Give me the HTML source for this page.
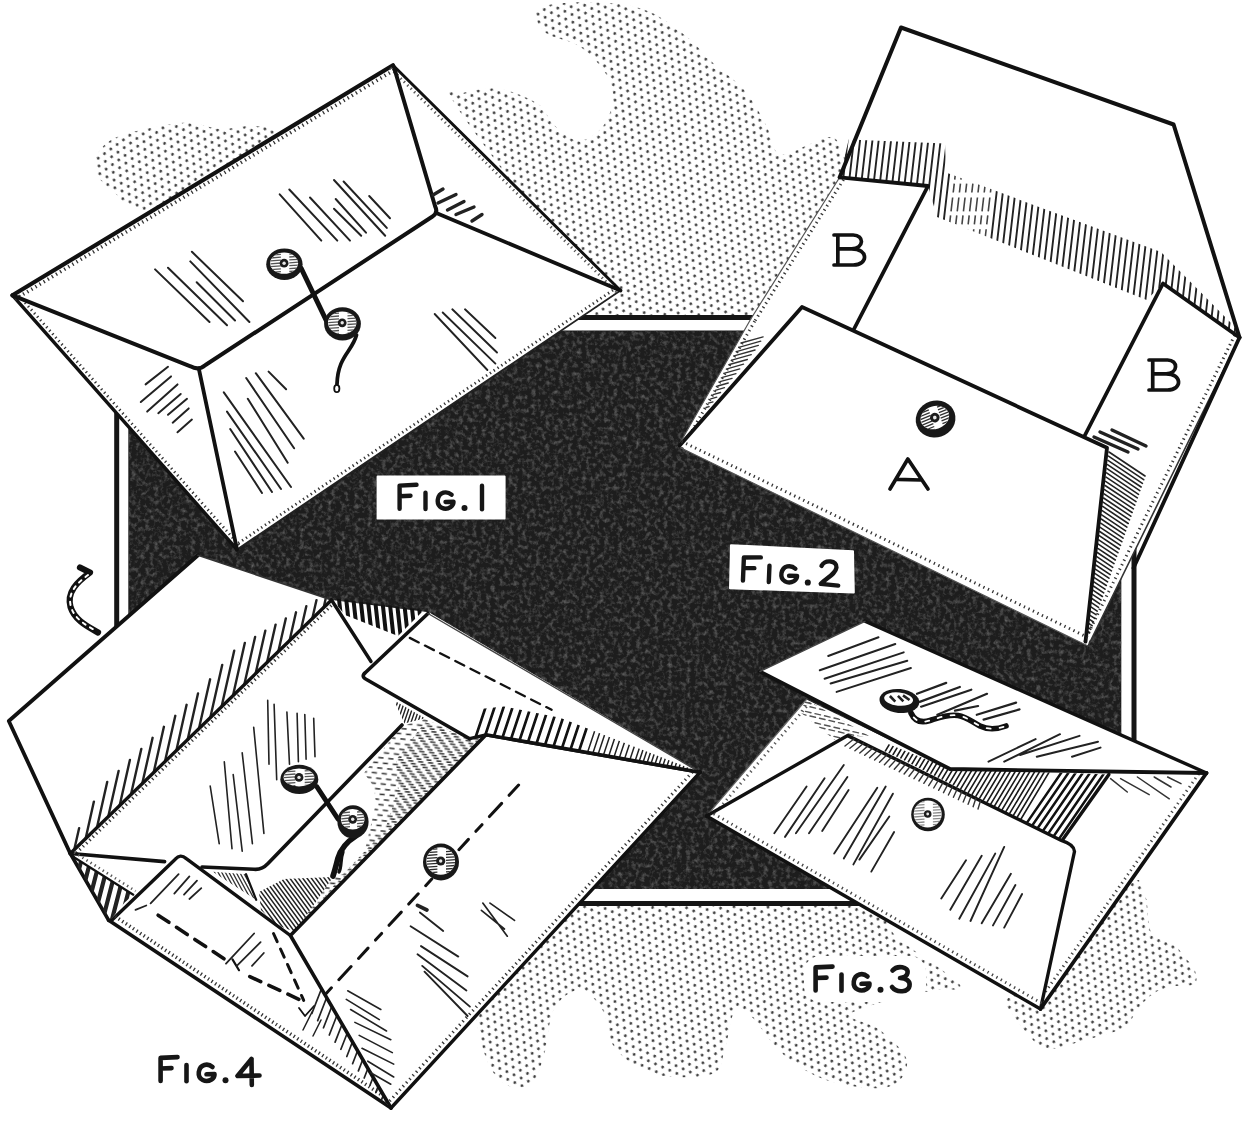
<!DOCTYPE html>
<html><head><meta charset="utf-8"><title>Envelope figures</title>
<style>html,body{margin:0;padding:0;background:#fff;}body{width:1252px;height:1121px;overflow:hidden;font-family:"Liberation Sans",sans-serif;}svg{display:block}</style>
</head><body>
<svg width="1252" height="1121" viewBox="0 0 1252 1121">
<defs>
<pattern id="stip" width="7.8" height="13.5" patternUnits="userSpaceOnUse" patternTransform="rotate(24)">
<circle cx="1.95" cy="3.37" r="1.4" fill="#3c3c3c"/><circle cx="5.85" cy="10.12" r="1.4" fill="#3c3c3c"/>
</pattern>
<filter id="noise" x="0" y="0" width="100%" height="100%" color-interpolation-filters="sRGB">
<feTurbulence type="fractalNoise" baseFrequency="0.22" numOctaves="3" seed="3" result="n"/>
<feColorMatrix in="n" type="matrix" values="0 0 0 0 0.42  0 0 0 0 0.42  0 0 0 0 0.42  1.8 0 0 0 -0.8" result="m"/>
<feComposite in="m" in2="SourceGraphic" operator="in" result="c"/>
<feMerge><feMergeNode in="SourceGraphic"/><feMergeNode in="c"/></feMerge>
</filter>
</defs>
<rect width="1252" height="1121" fill="#fff"/>
<path d="M455.0,104.0C438.8,77.8 455.5,95.5 463.0,93.0C470.5,90.5 487.5,87.2 500.0,89.0C512.5,90.8 529.0,98.0 538.0,104.0C547.0,110.0 547.2,118.8 554.0,125.0C560.8,131.2 570.7,141.0 579.0,141.0C587.3,141.0 598.3,132.5 604.0,125.0C609.7,117.5 613.0,105.0 613.0,96.0C613.0,87.0 609.7,79.3 604.0,71.0C598.3,62.7 588.7,52.3 579.0,46.0C569.3,39.7 553.2,38.5 546.0,33.0C538.8,27.5 534.7,17.8 536.0,13.0C537.3,8.2 542.0,5.7 554.0,4.0C566.0,2.3 592.0,1.7 608.0,3.0C624.0,4.3 636.8,6.3 650.0,12.0C663.2,17.7 676.7,28.7 687.0,37.0C697.3,45.3 702.3,53.0 712.0,62.0C721.7,71.0 736.0,80.5 745.0,91.0C754.0,101.5 760.3,114.5 766.0,125.0C771.7,135.5 772.0,150.7 779.0,154.0C786.0,157.3 800.2,147.8 808.0,145.0C815.8,142.2 820.7,136.8 826.0,137.0C831.3,137.2 836.0,135.5 840.0,146.0C844.0,156.5 856.7,169.3 850.0,200.0C843.3,230.7 841.7,308.3 800.0,330.0C758.3,351.7 640.0,343.3 600.0,330.0C560.0,316.7 584.2,287.7 560.0,250.0C535.8,212.3 471.2,130.2 455.0,104.0Z" fill="url(#stip)" />
<path d="M97.0,175.0C93.7,168.3 93.7,161.3 97.0,155.0C100.3,148.7 105.5,142.0 117.0,137.0C128.5,132.0 153.5,127.3 166.0,125.0C178.5,122.7 182.8,122.3 192.0,123.0C201.2,123.7 210.5,128.5 221.0,129.0C231.5,129.5 246.0,125.0 255.0,126.0C264.0,127.0 275.8,124.3 275.0,135.0C274.2,145.7 270.0,177.5 250.0,190.0C230.0,202.5 175.7,207.7 155.0,210.0C134.3,212.3 132.3,206.5 126.0,204.0C119.7,201.5 121.8,199.8 117.0,195.0C112.2,190.2 100.3,181.7 97.0,175.0Z" fill="url(#stip)" />
<path d="M590.0,890.0C640.0,881.7 788.3,881.7 840.0,890.0C891.7,898.3 880.0,924.2 900.0,940.0C920.0,955.8 954.2,976.7 960.0,985.0C965.8,993.3 946.7,987.5 935.0,990.0C923.3,992.5 904.2,995.8 890.0,1000.0C875.8,1004.2 851.7,1010.0 850.0,1015.0C848.3,1020.0 870.5,1022.3 880.0,1030.0C889.5,1037.7 905.7,1051.5 907.0,1061.0C908.3,1070.5 901.0,1083.7 888.0,1087.0C875.0,1090.3 846.3,1086.3 829.0,1081.0C811.7,1075.7 797.0,1065.8 784.0,1055.0C771.0,1044.2 759.2,1023.5 751.0,1016.0C742.8,1008.5 739.3,1004.7 735.0,1010.0C730.7,1015.3 728.8,1037.3 725.0,1048.0C721.2,1058.7 723.8,1069.7 712.0,1074.0C700.2,1078.3 670.2,1078.3 654.0,1074.0C637.8,1069.7 623.7,1058.8 615.0,1048.0C606.3,1037.2 608.0,1018.7 602.0,1009.0C596.0,999.3 587.0,990.0 579.0,990.0C571.0,990.0 559.8,998.2 554.0,1009.0C548.2,1019.8 547.8,1042.5 544.0,1055.0C540.2,1067.5 537.5,1079.2 531.0,1084.0C524.5,1088.8 512.7,1088.8 505.0,1084.0C497.3,1079.2 489.2,1069.0 485.0,1055.0C480.8,1041.0 470.8,1019.2 480.0,1000.0C489.2,980.8 521.7,958.3 540.0,940.0C558.3,921.7 540.0,898.3 590.0,890.0Z" fill="url(#stip)" />
<path d="M1125.0,878.0C1133.2,869.7 1135.5,876.4 1139.0,880.0C1142.5,883.6 1144.7,892.6 1146.3,899.5C1147.9,906.4 1147.5,915.2 1148.7,921.2C1149.9,927.2 1149.5,932.1 1153.5,935.7C1157.5,939.3 1167.6,939.3 1172.8,942.9C1178.0,946.5 1181.2,952.9 1184.8,957.3C1188.4,961.7 1192.9,965.0 1194.5,969.4C1196.1,973.8 1198.1,981.1 1194.5,983.9C1190.9,986.7 1179.6,984.7 1172.8,986.3C1166.0,987.9 1159.5,989.5 1153.5,993.5C1147.5,997.5 1141.4,1004.8 1136.6,1010.4C1131.8,1016.0 1132.6,1022.4 1124.6,1027.2C1116.6,1032.0 1100.5,1035.7 1088.4,1039.3C1076.4,1042.9 1060.3,1047.7 1052.3,1048.9C1044.3,1050.1 1044.6,1049.3 1040.2,1046.5C1035.8,1043.7 1030.6,1037.6 1025.8,1032.0C1021.0,1026.4 1014.6,1018.1 1011.3,1012.8C1008.0,1007.5 1002.9,1004.6 1006.0,1000.0C1009.1,995.4 1016.0,996.7 1030.0,985.0C1044.0,973.3 1074.2,947.8 1090.0,930.0C1105.8,912.2 1116.8,886.3 1125.0,878.0Z" fill="url(#stip)" />
<rect x="116.7" y="317.5" width="1017.3" height="586" fill="#fff" stroke="#151515" stroke-width="5"/>
<rect x="128.3" y="330.5" width="993" height="558.5" fill="#1d1d1d" filter="url(#noise)"/>
<polygon points="1105,874 1145,874 1145,912 1085,912" fill="#fff"/>
<polygon points="1105,880 1139,880 1146.3,899.5 1147.5,912 1085,912" fill="url(#stip)"/>
<polygon points="12.5,295.3 393.0,65.3 620.5,290.5 237.0,549.5" fill="#fff" stroke="none" stroke-width="0" stroke-linejoin="round" />
<line x1="12.5" y1="295.3" x2="237.0" y2="549.5" stroke="#111" stroke-width="3.4" stroke-linecap="round" />
<line x1="237.0" y1="549.5" x2="620.5" y2="290.5" stroke="#222" stroke-width="1.8" stroke-linecap="round" />
<line x1="15.9" y1="292.3" x2="240.4" y2="546.5" stroke="#333" stroke-width="2.8" stroke-dasharray="1.3 3.3"/>
<line x1="234.5" y1="545.8" x2="618.0" y2="286.8" stroke="#333" stroke-width="2.8" stroke-dasharray="1.3 3.3"/>
<line x1="12.5" y1="295.3" x2="393.0" y2="65.3" stroke="#111" stroke-width="4.2" stroke-linecap="round" />
<line x1="393.0" y1="65.3" x2="620.5" y2="290.5" stroke="#111" stroke-width="2.9" stroke-linecap="round" />
<line x1="14.9" y1="299.3" x2="395.4" y2="69.3" stroke="#333" stroke-width="3.6" stroke-dasharray="1.3 3.5"/>
<line x1="390.3" y1="68.1" x2="617.8" y2="293.3" stroke="#555" stroke-width="2.8" stroke-dasharray="1.3 3.5"/>
<path d="M12.5,295.3 L190.5,366.3 Q198.5,371.0 205.5,365.0 L432.5,216.5 Q438.5,213 435.0,206.0 L394,67.3" fill="none" stroke="#111" stroke-width="4" stroke-linecap="round" stroke-linejoin="round" />
<line x1="199.0" y1="369.5" x2="237.0" y2="549.5" stroke="#111" stroke-width="3.8" stroke-linecap="round" />
<line x1="437.5" y1="213.5" x2="620.5" y2="290.5" stroke="#111" stroke-width="3.8" stroke-linecap="round" />
<path d="M279.7,194.3L321.3,240.6M289.3,189.5L337.3,240.6M310.0,197.5L350.0,240.6M334.0,208.7L361.2,235.8M335.7,199.0L366.0,232.7M334.0,180.0L385.2,235.8M343.6,181.5L386.8,227.9M369.2,196.0L390.0,218.3" fill="none" stroke="#222" stroke-width="2" stroke-linecap="round"/>
<path d="M155.1,269.4L209.5,322.0M168.0,267.8L227.0,325.3M191.9,251.8L243.0,301.3M190.3,261.4L249.4,322.0M196.7,282.2L235.0,320.5" fill="none" stroke="#222" stroke-width="2" stroke-linecap="round"/>
<path d="M434.7,314.0L487.4,370.0M442.7,312.5L495.4,363.6M452.3,309.3L497.0,352.5M465.0,309.3L495.4,338.0" fill="none" stroke="#222" stroke-width="1.9" stroke-linecap="round"/>
<path d="M223.8,392.4L291.0,487.0M227.0,411.6L281.0,489.0M230.2,429.0L272.0,492.0M235.0,451.5L262.0,493.0M246.2,378.0L294.1,448.3M247.8,398.8L287.7,462.7M255.8,373.2L303.7,438.7M268.6,371.6L286.1,389.2" fill="none" stroke="#222" stroke-width="2" stroke-linecap="round"/>
<path d="M145.6,384.4L168.0,366.8M140.8,402.0L171.0,376.4M147.2,411.6L177.5,384.4M158.3,413.2L180.7,394.0M168.0,414.8L187.0,398.8M172.7,422.7L188.7,408.4M177.5,432.3L191.9,419.6" fill="none" stroke="#222" stroke-width="2" stroke-linecap="round"/>
<path d="M433.0,195.0L443.0,189.0M438.0,203.0L456.0,194.5M447.5,210.0L464.0,201.5M456.0,214.5L474.0,207.0M472.0,221.0L482.0,214.5" fill="none" stroke="#222" stroke-width="3.4" stroke-linecap="round"/>
<line x1="301.0" y1="268.0" x2="327.0" y2="322.0" stroke="#111" stroke-width="5" stroke-linecap="round" />
<path d="M356.5,335 C352,352 338,356 337,384" fill="none" stroke="#111" stroke-width="3.8" stroke-linecap="round" stroke-linejoin="round" />
<ellipse cx="336.8" cy="388.5" rx="2.6" ry="3.6" fill="#fff" stroke="#111" stroke-width="1.8"/>
<g transform="translate(284.4,264.2) rotate(0)">
<ellipse rx="18.2" ry="15.8" fill="#181818"/>
<clipPath id="bt1"><ellipse cx="-0.3" cy="-1.0" rx="14.0" ry="10.6"/></clipPath>
<ellipse cx="-0.3" cy="-1.0" rx="14.0" ry="10.6" fill="#fff"/>
<path d="M-14.0,-9.1L-3.5,-9.9M4.9,-10.1L14.0,-10.7M-14.0,-6.2L-3.5,-7.0M4.9,-7.2L14.0,-7.8M-14.0,-3.3L-3.5,-4.1M4.9,-4.3L14.0,-4.9M-14.0,-0.4L-3.5,-1.2M4.9,-1.4L14.0,-2.0M-14.0,2.5L-3.5,1.7M4.9,1.5L14.0,0.9M-14.0,5.4L-3.5,4.6M4.9,4.4L14.0,3.8M-14.0,8.3L-3.5,7.5M4.9,7.3L14.0,6.7" stroke="#555" stroke-width="1.3" fill="none" clip-path="url(#bt1)"/>
<circle cx="-0.3" cy="-1.0" r="4.4" fill="#1d1d1d"/>
<circle cx="-0.3" cy="-1.0" r="1.7" fill="#e8e8e8"/>
</g>
<g transform="translate(342.5,323.8) rotate(0)">
<ellipse rx="18.4" ry="16.6" fill="#181818"/>
<clipPath id="bt2"><ellipse cx="-0.3" cy="-1.0" rx="14.2" ry="11.4"/></clipPath>
<ellipse cx="-0.3" cy="-1.0" rx="14.2" ry="11.4" fill="#fff"/>
<path d="M-14.2,-9.9L-3.5,-10.7M5.0,-10.9L14.2,-11.5M-14.2,-7.0L-3.5,-7.8M5.0,-8.0L14.2,-8.6M-14.2,-4.1L-3.5,-4.9M5.0,-5.1L14.2,-5.7M-14.2,-1.2L-3.5,-2.0M5.0,-2.2L14.2,-2.8M-14.2,1.7L-3.5,0.9M5.0,0.7L14.2,0.1M-14.2,4.6L-3.5,3.8M5.0,3.6L14.2,3.0M-14.2,7.5L-3.5,6.7M5.0,6.5L14.2,5.9M-14.2,10.4L-3.5,9.6M5.0,9.4L14.2,8.8" stroke="#555" stroke-width="1.3" fill="none" clip-path="url(#bt2)"/>
<circle cx="-0.3" cy="-1.0" r="4.4" fill="#1d1d1d"/>
<circle cx="-0.3" cy="-1.0" r="1.7" fill="#e8e8e8"/>
</g>
<polygon points="901.0,27.5 1173.6,124.5 1239.5,337.5 1088.0,646.0 678.0,446.5 750.8,319.0 839.7,177.3" fill="#fff" stroke="none" stroke-width="0" stroke-linejoin="round" />
<clipPath id="f2band"><polygon points="848.7,139.5 945,143.5 946,172.5 1161,252 1234,326 1239,337 1163,283.5 1146.6,300 937,217 928,186 839.7,177.3"/></clipPath>
<g clip-path="url(#f2band)">
<path d="M850.0,120.0L824.0,345.0M856.2,120.0L830.2,345.0M862.4,120.0L836.4,345.0M868.6,120.0L842.6,345.0M874.8,120.0L848.8,345.0M881.0,120.0L855.0,345.0M887.2,120.0L861.2,345.0M893.4,120.0L867.4,345.0M899.6,120.0L873.6,345.0M905.8,120.0L879.8,345.0M912.0,120.0L886.0,345.0M918.2,120.0L892.2,345.0M924.4,120.0L898.4,345.0M930.6,120.0L904.6,345.0M936.8,120.0L910.8,345.0M943.0,120.0L917.0,345.0M949.2,120.0L923.2,345.0M955.4,120.0L929.4,345.0M1005.0,120.0L979.0,345.0M1011.2,120.0L985.2,345.0M1017.4,120.0L991.4,345.0M1023.6,120.0L997.6,345.0M1029.8,120.0L1003.8,345.0M1036.0,120.0L1010.0,345.0M1042.2,120.0L1016.2,345.0M1048.4,120.0L1022.4,345.0M1054.6,120.0L1028.6,345.0M1060.8,120.0L1034.8,345.0M1067.0,120.0L1041.0,345.0M1073.2,120.0L1047.2,345.0M1079.4,120.0L1053.4,345.0M1085.6,120.0L1059.6,345.0M1091.8,120.0L1065.8,345.0M1098.0,120.0L1072.0,345.0M1104.2,120.0L1078.2,345.0M1110.4,120.0L1084.4,345.0M1116.6,120.0L1090.6,345.0M1122.8,120.0L1096.8,345.0M1129.0,120.0L1103.0,345.0M1135.2,120.0L1109.2,345.0M1141.4,120.0L1115.4,345.0M1147.6,120.0L1121.6,345.0M1153.8,120.0L1127.8,345.0M1160.0,120.0L1134.0,345.0M1166.2,120.0L1140.2,345.0M1172.4,120.0L1146.4,345.0M1178.6,120.0L1152.6,345.0M1184.8,120.0L1158.8,345.0M1191.0,120.0L1165.0,345.0M1197.2,120.0L1171.2,345.0M1203.4,120.0L1177.4,345.0M1209.6,120.0L1183.6,345.0M1215.8,120.0L1189.8,345.0M1222.0,120.0L1196.0,345.0M1228.2,120.0L1202.2,345.0M1234.4,120.0L1208.4,345.0M1240.6,120.0L1214.6,345.0M1246.8,120.0L1220.8,345.0M1253.0,120.0L1227.0,345.0M1259.2,120.0L1233.2,345.0" fill="none" stroke="#222" stroke-width="1.9" stroke-linecap="round"/>
<path d="M961.6,120.0L935.6,345.0M967.8,120.0L941.8,345.0M974.0,120.0L948.0,345.0M980.2,120.0L954.2,345.0M986.4,120.0L960.4,345.0M992.6,120.0L966.6,345.0M998.8,120.0L972.8,345.0" fill="none" stroke="#444" stroke-width="1.6" stroke-dasharray="9 5 14 4"/>
</g>
<polyline points="839.7,177.3 901.0,27.5 1173.6,124.5 1239.5,337.5" fill="none" stroke="#111" stroke-width="4" stroke-linecap="round" stroke-linejoin="round" />
<line x1="839.7" y1="177.3" x2="750.8" y2="319.0" stroke="#555" stroke-width="1.2" stroke-linecap="round" />
<line x1="843.5" y1="179.7" x2="754.6" y2="321.4" stroke="#333" stroke-width="3.0" stroke-dasharray="1.3 3.7"/>
<line x1="750.8" y1="319.0" x2="678.0" y2="446.5" stroke="#555" stroke-width="1.2" stroke-linecap="round" />
<line x1="754.7" y1="321.2" x2="681.9" y2="448.7" stroke="#333" stroke-width="3.0" stroke-dasharray="1.3 3.7"/>
<line x1="678.0" y1="446.5" x2="1088.0" y2="646.0" stroke="#555" stroke-width="1.2" stroke-linecap="round" />
<line x1="680.1" y1="442.3" x2="1090.1" y2="641.8" stroke="#333" stroke-width="3.0" stroke-dasharray="1.3 3.7"/>
<line x1="1239.5" y1="337.5" x2="1088.0" y2="646.0" stroke="#333" stroke-width="1.6" stroke-linecap="round" />
<line x1="1234.7" y1="335.2" x2="1083.2" y2="643.7" stroke="#333" stroke-width="3.0" stroke-dasharray="1.3 3.7"/>
<line x1="1239.5" y1="337.5" x2="1133.5" y2="568.0" stroke="#111" stroke-width="3.8" stroke-linecap="round" />
<polyline points="839.7,177.3 928.0,186.0 854.0,329.0" fill="none" stroke="#111" stroke-width="3.8" stroke-linecap="round" stroke-linejoin="round" />
<polyline points="1084.0,437.0 1163.0,283.5 1239.5,337.5" fill="none" stroke="#111" stroke-width="3.8" stroke-linecap="round" stroke-linejoin="round" />
<path d="M1109.0,452.0L1145.0,476.0M1108.5,456.2L1143.7,479.7M1108.0,460.4L1142.4,483.3M1107.5,464.6L1141.1,487.0M1107.0,468.7L1139.8,490.6M1106.6,472.9L1138.5,494.3M1106.1,477.1L1137.3,497.9M1105.6,481.3L1136.0,501.6M1105.1,485.5L1134.7,505.2M1104.6,489.7L1133.4,508.9M1104.1,493.9L1132.1,512.5M1103.6,498.0L1130.8,516.2M1103.1,502.2L1129.5,519.8M1102.7,506.4L1128.2,523.5M1102.2,510.6L1126.9,527.1M1101.7,514.8L1125.6,530.8M1101.2,519.0L1124.3,534.4M1100.7,523.2L1123.1,538.1M1100.2,527.3L1121.8,541.7M1099.7,531.5L1120.5,545.4M1099.2,535.7L1119.2,549.0M1098.7,539.9L1117.9,552.7M1098.3,544.1L1116.6,556.3M1097.8,548.3L1115.3,560.0M1097.3,552.5L1114.0,563.6M1096.8,556.7L1112.7,567.3M1096.3,560.8L1111.4,570.9M1095.8,565.0L1110.2,574.6M1095.3,569.2L1108.9,578.2M1094.8,573.4L1107.6,581.9M1094.3,577.6L1106.3,585.5M1093.9,581.8L1105.0,589.2M1093.4,586.0L1103.7,592.8M1092.9,590.1L1102.4,596.5M1092.4,594.3L1101.1,600.1M1091.9,598.5L1099.8,603.8M1091.4,602.7L1098.5,607.4M1090.9,606.9L1097.2,611.1M1090.4,611.1L1096.0,614.7M1090.0,615.3L1094.7,618.4M1089.5,619.4L1093.4,622.0M1089.0,623.6L1092.1,625.7M1088.5,627.8L1090.8,629.3M1088.0,632.0L1089.5,633.0" fill="none" stroke="#222" stroke-width="1.6" stroke-linecap="round"/>
<path d="M1094.0,437.0L1128.0,452.0M1100.0,432.0L1138.0,449.0M1112.0,430.0L1146.0,446.0" fill="none" stroke="#222" stroke-width="3.4" stroke-linecap="round"/>
<path d="M741.1,343.0L763.1,336.8M738.8,347.3L760.8,341.1M736.4,351.6L758.4,345.4M734.1,355.9L755.1,350.0M731.7,360.2L751.3,354.7M729.4,364.5L747.4,359.5M727.1,368.8L743.6,364.2M724.7,373.1L739.8,368.9M722.4,377.4L736.0,373.6M720.0,381.7L732.1,378.3M717.7,386.0L728.3,383.0M715.3,390.3L724.5,387.7M713.0,394.6L720.6,392.5M710.7,398.9L716.8,397.2M708.3,403.2L713.0,401.9M706.0,407.5L709.2,406.6" fill="none" stroke="#333" stroke-width="1.3" stroke-linecap="round"/>
<polygon points="802.0,307.0 1107.0,447.8 1085.5,641.7 679.5,445.8" fill="#fff" stroke="none" stroke-width="0" stroke-linejoin="round" />
<polyline points="679.5,445.8 802.0,307.0 1107.0,447.8 1085.5,641.7" fill="none" stroke="#111" stroke-width="3.8" stroke-linecap="round" stroke-linejoin="round" />
<line x1="681.6" y1="441.4" x2="1087.6" y2="637.3" stroke="#333" stroke-width="3.0" stroke-dasharray="1.3 3.7"/>
<g transform="translate(935.6,419.0) rotate(-18)">
<ellipse rx="20.0" ry="18.4" fill="#181818"/>
<clipPath id="bt3"><ellipse cx="-0.3" cy="-1.6" rx="14.6" ry="11.4"/></clipPath>
<ellipse cx="-0.3" cy="-1.6" rx="14.6" ry="11.4" fill="#fff"/>
<path d="M-14.6,-9.9L-3.6,-10.7M5.1,-10.9L14.6,-11.5M-14.6,-7.0L-3.6,-7.8M5.1,-8.0L14.6,-8.6M-14.6,-4.1L-3.6,-4.9M5.1,-5.1L14.6,-5.7M-14.6,-1.2L-3.6,-2.0M5.1,-2.2L14.6,-2.8M-14.6,1.7L-3.6,0.9M5.1,0.7L14.6,0.1M-14.6,4.6L-3.6,3.8M5.1,3.6L14.6,3.0M-14.6,7.5L-3.6,6.7M5.1,6.5L14.6,5.9M-14.6,10.4L-3.6,9.6M5.1,9.4L14.6,8.8" stroke="#333" stroke-width="1.3" fill="none" clip-path="url(#bt3)"/>
<circle cx="-0.3" cy="-1.6" r="4.8" fill="#1d1d1d"/>
<circle cx="-0.3" cy="-1.6" r="1.8" fill="#e8e8e8"/>
</g>
<path d="M890,489 L907.86,459 L928,489 M897.6,479.4 L920.4,480.0" fill="none" stroke="#111" stroke-width="3.7" stroke-linecap="round" stroke-linejoin="round" />
<path d="M837.84,265 L837.84,235 M834,235 L853.2,235 C864.4,235 864.4,248.8 851.6,248.8 L837.84,248.8 M851.6,248.8 C868.56,248.8 868.56,265 853.2,265 L834,265" fill="none" stroke="#111" stroke-width="3.7" stroke-linecap="round" stroke-linejoin="round" />
<path d="M1152.72,390 L1152.72,360 M1149,360 L1167.6,360 C1178.45,360 1178.45,373.8 1166.05,373.8 L1152.72,373.8 M1166.05,373.8 C1182.48,373.8 1182.48,390 1167.6,390 L1149,390" fill="none" stroke="#111" stroke-width="3.7" stroke-linecap="round" stroke-linejoin="round" />
<polygon points="706.5,816.0 806.4,699.5 950.0,769.0 1206.5,773.0 1040.5,1009.0" fill="#fff" stroke="none" stroke-width="0" stroke-linejoin="round" />
<clipPath id="f3in"><polygon points="871.0,737.0 950.0,769.0 1108.9,774.4 1061.9,840.7 900.0,758.3 862.0,741.0"/></clipPath>
<g clip-path="url(#f3in)">
<path d="M820.0,860.0L916.0,700.0M824.9,860.0L920.9,700.0M829.8,860.0L925.8,700.0M834.7,860.0L930.7,700.0M839.6,860.0L935.6,700.0M844.5,860.0L940.5,700.0M849.4,860.0L945.4,700.0M854.3,860.0L950.3,700.0M859.2,860.0L955.2,700.0M864.1,860.0L960.1,700.0M869.0,860.0L965.0,700.0M873.9,860.0L969.9,700.0M878.8,860.0L974.8,700.0M883.7,860.0L979.7,700.0M888.6,860.0L984.6,700.0M893.5,860.0L989.5,700.0M898.4,860.0L994.4,700.0M903.3,860.0L999.3,700.0M908.2,860.0L1004.2,700.0M913.1,860.0L1009.1,700.0M918.0,860.0L1014.0,700.0M922.9,860.0L1018.9,700.0M927.8,860.0L1023.8,700.0M932.7,860.0L1028.7,700.0M937.6,860.0L1033.6,700.0M942.5,860.0L1038.5,700.0M947.4,860.0L1043.4,700.0M952.3,860.0L1048.3,700.0M957.2,860.0L1053.2,700.0M962.1,860.0L1058.1,700.0M967.0,860.0L1063.0,700.0M971.9,860.0L1067.9,700.0M976.8,860.0L1072.8,700.0M981.7,860.0L1077.7,700.0M986.6,860.0L1082.6,700.0M991.5,860.0L1087.5,700.0M996.4,860.0L1092.4,700.0" fill="none" stroke="#1a1a1a" stroke-width="1.6" stroke-linecap="round"/>
<path d="M1001.3,860.0L1111.3,700.0M1008.5,860.0L1118.5,700.0M1015.7,860.0L1125.7,700.0M1022.9,860.0L1132.9,700.0M1030.1,860.0L1140.1,700.0M1037.3,860.0L1147.3,700.0M1044.5,860.0L1154.5,700.0M1051.7,860.0L1161.7,700.0M1058.9,860.0L1168.9,700.0M1066.1,860.0L1176.1,700.0M1073.3,860.0L1183.3,700.0M1080.5,860.0L1190.5,700.0M1087.7,860.0L1197.7,700.0M1094.9,860.0L1204.9,700.0M1102.1,860.0L1212.1,700.0M1109.3,860.0L1219.3,700.0M1116.5,860.0L1226.5,700.0M1123.7,860.0L1233.7,700.0" fill="none" stroke="#111" stroke-width="2.5" stroke-linecap="round"/>
</g>
<clipPath id="f3ls"><polygon points="806.4,699.5 871.0,737.0 847.7,735.6 836.0,741.0 800.0,712.0"/></clipPath>
<g clip-path="url(#f3ls)">
<path d="M796.0,700.0L801.5,701.3M805.5,702.2L811.0,703.5M815.0,704.4L820.5,705.7M824.5,706.6L830.0,707.9M834.0,708.8L839.5,710.1M843.5,711.0L849.0,712.3M853.0,713.2L858.5,714.5M862.5,715.4L868.0,716.7M872.0,717.6L877.5,718.9M881.5,719.8L887.0,721.1M800.5,704.6L806.0,705.9M810.0,706.8L815.5,708.1M819.5,709.0L825.0,710.3M829.0,711.2L834.5,712.5M838.5,713.4L844.0,714.7M848.0,715.6L853.5,716.9M857.5,717.8L863.0,719.1M867.0,720.0L872.5,721.3M876.5,722.2L882.0,723.5M886.0,724.4L891.5,725.7M796.0,709.2L801.5,710.5M805.5,711.4L811.0,712.7M815.0,713.6L820.5,714.9M824.5,715.8L830.0,717.1M834.0,718.0L839.5,719.3M843.5,720.2L849.0,721.5M853.0,722.4L858.5,723.7M862.5,724.6L868.0,725.9M872.0,726.8L877.5,728.1M881.5,729.0L887.0,730.3M800.5,713.8L806.0,715.1M810.0,716.0L815.5,717.3M819.5,718.2L825.0,719.5M829.0,720.4L834.5,721.7M838.5,722.6L844.0,723.9M848.0,724.8L853.5,726.1M857.5,727.0L863.0,728.3M867.0,729.2L872.5,730.5M876.5,731.4L882.0,732.7M886.0,733.6L891.5,734.9M796.0,718.4L801.5,719.7M805.5,720.6L811.0,721.9M815.0,722.8L820.5,724.1M824.5,725.0L830.0,726.3M834.0,727.2L839.5,728.5M843.5,729.4L849.0,730.7M853.0,731.6L858.5,732.9M862.5,733.8L868.0,735.1M872.0,736.0L877.5,737.3M881.5,738.2L887.0,739.5M800.5,723.0L806.0,724.3M810.0,725.2L815.5,726.5M819.5,727.4L825.0,728.7M829.0,729.6L834.5,730.9M838.5,731.8L844.0,733.1M848.0,734.0L853.5,735.3M857.5,736.2L863.0,737.5M867.0,738.4L872.5,739.7M876.5,740.6L882.0,741.9M886.0,742.8L891.5,744.1M796.0,727.6L801.5,728.9M805.5,729.8L811.0,731.1M815.0,732.0L820.5,733.3M824.5,734.2L830.0,735.5M834.0,736.4L839.5,737.7M843.5,738.6L849.0,739.9M853.0,740.8L858.5,742.1M862.5,743.0L868.0,744.3M872.0,745.2L877.5,746.5M881.5,747.4L887.0,748.7M800.5,732.2L806.0,733.5M810.0,734.4L815.5,735.7M819.5,736.6L825.0,737.9M829.0,738.8L834.5,740.1M838.5,741.0L844.0,742.3M848.0,743.2L853.5,744.5M857.5,745.4L863.0,746.7M867.0,747.6L872.5,748.9M876.5,749.8L882.0,751.1M886.0,752.0L891.5,753.3M796.0,736.8L801.5,738.1M805.5,739.0L811.0,740.3M815.0,741.2L820.5,742.5M824.5,743.4L830.0,744.7M834.0,745.6L839.5,746.9M843.5,747.8L849.0,749.1M853.0,750.0L858.5,751.3M862.5,752.2L868.0,753.5M872.0,754.4L877.5,755.7M881.5,756.6L887.0,757.9" fill="none" stroke="#555" stroke-width="1.4" stroke-linecap="round"/>
</g>
<line x1="806.4" y1="699.5" x2="706.5" y2="816.0" stroke="#666" stroke-width="1.2" stroke-linecap="round" />
<line x1="810.0" y1="702.6" x2="710.1" y2="819.1" stroke="#555" stroke-width="2.9" stroke-dasharray="1.3 4.0"/>
<polyline points="1061.9,840.7 1108.9,774.4" fill="none" stroke="#111" stroke-width="3.4" stroke-linecap="round" stroke-linejoin="round" />
<line x1="1206.5" y1="773.0" x2="1040.5" y2="1009.0" stroke="#111" stroke-width="3.8" stroke-linecap="round" />
<line x1="1201.7" y1="769.6" x2="1035.7" y2="1005.6" stroke="#444" stroke-width="2.9" stroke-dasharray="1.3 3.8"/>
<path d="M847.7,735.6 L1061.9,840.7 Q1074.0,844.5 1074.5,851.5 L1040.5,1009 L706.5,816 Z" fill="#fff" stroke="none" stroke-width="0" stroke-linecap="round" stroke-linejoin="round" />
<path d="M706.5,816 L847.7,735.6 L1061.9,840.7 Q1074.0,844.5 1074.5,851.5 L1040.5,1009" fill="none" stroke="#111" stroke-width="3.4" stroke-linecap="round" stroke-linejoin="round" />
<line x1="706.5" y1="816.0" x2="1040.5" y2="1009.0" stroke="#111" stroke-width="3.4" stroke-linecap="round" />
<line x1="709.3" y1="811.2" x2="1043.3" y2="1004.2" stroke="#444" stroke-width="2.9" stroke-dasharray="1.3 3.8"/>
<path d="M854.1,738.8L845.0,746.0M858.8,741.0L849.9,748.3M863.5,743.3L854.9,750.7M868.2,745.6L859.8,753.0M872.8,747.9L864.7,755.3M877.5,750.2L869.6,757.7M882.2,752.5L874.6,760.0M886.9,754.8L879.5,762.3M891.6,757.1L884.4,764.7M896.3,759.4L889.3,767.0M900.9,761.7L894.3,769.3M905.6,764.0L899.2,771.7M910.3,766.3L904.1,774.0M915.0,768.6L909.0,776.3M919.7,770.9L914.0,778.7M924.3,773.2L918.9,781.0M929.0,775.5L923.8,783.3M933.7,777.8L928.7,785.7M938.4,780.1L933.7,788.0M943.1,782.4L938.6,790.3M947.7,784.7L943.5,792.7M952.4,787.0L948.4,795.0M957.1,789.3L953.4,797.3M961.8,791.6L958.3,799.7M966.5,793.9L963.2,802.0M971.1,796.2L968.1,804.3M975.8,798.5L973.1,806.7M980.5,800.8L978.0,809.0" fill="none" stroke="#333" stroke-width="1.4" stroke-linecap="round"/>
<path d="M774.3,833.3L806.6,786.5M785.0,836.9L824.6,778.2M795.9,833.3L843.8,765.0M809.0,833.3L847.4,777.0M822.2,830.9L848.6,790.1" fill="none" stroke="#222" stroke-width="1.9" stroke-linecap="round"/>
<path d="M834.2,853.6L877.3,787.7M843.8,858.4L885.7,786.5M853.4,864.4L892.9,793.7M859.4,859.6L889.3,816.5M871.3,871.6L894.1,832.0" fill="none" stroke="#222" stroke-width="1.9" stroke-linecap="round"/>
<path d="M941.3,898.5L966.0,860.3M950.3,909.7L981.7,855.8M959.3,918.7L995.2,853.6M970.5,921.0L1004.2,846.9M981.7,923.2L1010.9,873.8M993.0,925.4L1015.4,885.0M1004.2,927.6L1022.1,894.0" fill="none" stroke="#222" stroke-width="1.9" stroke-linecap="round"/>
<g transform="translate(928.0,814.5) rotate(0)">
<ellipse rx="16.8" ry="16.8" fill="#181818"/>
<clipPath id="bt4"><ellipse cx="-0.3" cy="-0.5" rx="14.0" ry="13.5"/></clipPath>
<ellipse cx="-0.3" cy="-0.5" rx="14.0" ry="13.5" fill="#fff"/>
<path d="M-14.0,-12.0L-3.5,-12.8M4.9,-13.0L14.0,-13.6M-14.0,-9.1L-3.5,-9.9M4.9,-10.1L14.0,-10.7M-14.0,-6.2L-3.5,-7.0M4.9,-7.2L14.0,-7.8M-14.0,-3.3L-3.5,-4.1M4.9,-4.3L14.0,-4.9M-14.0,-0.4L-3.5,-1.2M4.9,-1.4L14.0,-2.0M-14.0,2.5L-3.5,1.7M4.9,1.5L14.0,0.9M-14.0,5.4L-3.5,4.6M4.9,4.4L14.0,3.8M-14.0,8.3L-3.5,7.5M4.9,7.3L14.0,6.7M-14.0,11.2L-3.5,10.4M4.9,10.2L14.0,9.6" stroke="#8a8a8a" stroke-width="1.3" fill="none" clip-path="url(#bt4)"/>
<circle cx="-0.3" cy="-0.5" r="3.8" fill="#1d1d1d"/>
<circle cx="-0.3" cy="-0.5" r="1.4" fill="#e8e8e8"/>
</g>
<polygon points="759.9,671.5 865.0,621.3 1206.5,773.0 950.0,769.0" fill="#fff" stroke="none" stroke-width="0" stroke-linejoin="round" />
<polyline points="759.9,671.5 950.0,769.0 1206.5,773.0" fill="none" stroke="#111" stroke-width="3.8" stroke-linecap="round" stroke-linejoin="round" />
<line x1="1206.5" y1="773.0" x2="865.0" y2="621.3" stroke="#111" stroke-width="3.4" stroke-linecap="round" />
<line x1="759.9" y1="671.5" x2="865.0" y2="621.3" stroke="#444" stroke-width="1.4" stroke-linecap="round" />
<path d="M1110.6,778.6L1127.3,792.0M1120.6,778.6L1149.2,794.6M1137.4,777.0L1169.3,798.8M1154.2,777.0L1171.0,787.0M1167.6,777.0L1181.0,783.7" fill="none" stroke="#333" stroke-width="1.5" stroke-linecap="round"/>
<path d="M828.2,656.0L878.5,637.3M819.8,670.3L895.3,644.0M824.6,678.7L903.7,652.4M830.6,683.5L907.3,660.7M836.6,691.9L910.9,668.0" fill="none" stroke="#222" stroke-width="2" stroke-linecap="round"/>
<path d="M917.0,693.8L946.2,682.9M919.7,701.9L959.8,687.0M921.1,706.7L971.3,689.7M937.4,714.8L987.0,693.8M955.0,710.7L978.1,706.0M976.8,714.8L1016.1,702.6M983.6,719.6L1019.5,709.4" fill="none" stroke="#222" stroke-width="2.2" stroke-linecap="round"/>
<path d="M988.5,761.6L1035.6,739.1M1004.2,761.6L1060.0,734.2M1020.0,755.0L1079.5,735.9M1036.8,756.8L1098.0,741.7M1072.0,756.8L1100.5,747.6" fill="none" stroke="#222" stroke-width="2" stroke-linecap="round"/>
<path d="M911,713 C915,722 922,723 930,720.5 C938,718 948,714 958,715.5 C967,717 972,722 980,726 C988,730 998,729 1006,726" fill="none" stroke="#111" stroke-width="5.6" stroke-linecap="round" stroke-linejoin="round" />
<path d="M911,713 C915,722 922,723 930,720.5 C938,718 948,714 958,715.5 C967,717 972,722 980,726 C988,730 998,729 1006,726" fill="none" stroke="#fff" stroke-width="1.8" stroke-linecap="round" stroke-linejoin="round" stroke-dasharray="4 9" stroke-dashoffset="-18" stroke-linecap="butt"/>
<g transform="translate(899.4,701) rotate(6)"><ellipse rx="20" ry="12" fill="#181818"/><ellipse cx="-1" cy="-1.8" rx="14.5" ry="6.6" fill="#fff"/><path d="M-10,-4 L-4,1 M-2,-5 L4,0 M3,-6 L10,-2" stroke="#222" stroke-width="2.6" fill="none"/></g>
<pattern id="dash4" width="10" height="10.4" patternUnits="userSpaceOnUse" patternTransform="rotate(6)">
<rect x="0.5" y="0.6" width="5.2" height="1.5" fill="#333"/><rect x="5.4" y="5.8" width="5.2" height="1.5" fill="#333"/><rect x="-4.6" y="5.8" width="5.2" height="1.5" fill="#333"/></pattern>
<pattern id="dash4b" width="10" height="10.4" patternUnits="userSpaceOnUse" patternTransform="rotate(6)">
<rect x="3.5" y="3.2" width="5" height="1.5" fill="#333"/><rect x="8.4" y="8.4" width="5" height="1.5" fill="#333"/><rect x="-1.6" y="8.4" width="5" height="1.5" fill="#333"/></pattern>
<polygon points="8.8,721.0 198.0,555.3 331.5,600.0 428.8,612.2 700.0,772.3 391.0,1108.0 111.0,921.0 70.3,853.5" fill="#fff" stroke="none" stroke-width="0" stroke-linejoin="round" />
<polygon points="402.0,726.0 425.0,719.0 469.7,738.7 486.0,734.8 295.0,931.0 333.0,877.0 343.0,874.0 364.0,854.0 369.0,833.0 376.0,803.0 374.0,787.0 364.0,773.0" fill="url(#dash4)"/>
<polygon points="425.0,722.0 469.7,738.7 486.0,734.8 300.0,926.0 345.0,872.0 385.0,830.0 398.0,790.0 396.0,760.0" fill="url(#dash4b)"/>
<clipPath id="f4s2"><polygon points="259.0,892.0 284.0,879.0 333.0,877.0 295.0,932.0 277.0,925.0 261.0,910.0"/></clipPath>
<g clip-path="url(#f4s2)">
<path d="M225.0,860.0L287.0,945.0M229.3,860.0L291.3,945.0M233.6,860.0L295.6,945.0M237.9,860.0L299.9,945.0M242.2,860.0L304.2,945.0M246.5,860.0L308.5,945.0M250.8,860.0L312.8,945.0M255.1,860.0L317.1,945.0M259.4,860.0L321.4,945.0M263.7,860.0L325.7,945.0M268.0,860.0L330.0,945.0M272.3,860.0L334.3,945.0M276.6,860.0L338.6,945.0M280.9,860.0L342.9,945.0M285.2,860.0L347.2,945.0M289.5,860.0L351.5,945.0M293.8,860.0L355.8,945.0M298.1,860.0L360.1,945.0M302.4,860.0L364.4,945.0M306.7,860.0L368.7,945.0M311.0,860.0L373.0,945.0M315.3,860.0L377.3,945.0M319.6,860.0L381.6,945.0M323.9,860.0L385.9,945.0M328.2,860.0L390.2,945.0M332.5,860.0L394.5,945.0" fill="none" stroke="#222" stroke-width="1.5" stroke-linecap="round"/>
</g>
<clipPath id="f4tri"><polygon points="394.2,700.4 404.5,723.5 425.0,718.3"/></clipPath>
<g clip-path="url(#f4tri)">
<path d="M388.0,730.0L400.0,695.0M391.4,730.0L403.4,695.0M394.8,730.0L406.8,695.0M398.2,730.0L410.2,695.0M401.6,730.0L413.6,695.0M405.0,730.0L417.0,695.0M408.4,730.0L420.4,695.0M411.8,730.0L423.8,695.0M415.2,730.0L427.2,695.0M418.6,730.0L430.6,695.0M422.0,730.0L434.0,695.0M425.4,730.0L437.4,695.0" fill="none" stroke="#222" stroke-width="1.4" stroke-linecap="round"/>
</g>
<clipPath id="f4t"><polygon points="331.0,598.0 424.0,610.0 398.0,636.0 345.0,615.0"/></clipPath>
<g clip-path="url(#f4t)">
<path d="M338.0,590.0L344.0,645.0M345.2,590.0L351.2,645.0M352.4,590.0L358.4,645.0M359.6,590.0L365.6,645.0M366.8,590.0L372.8,645.0M374.0,590.0L380.0,645.0M381.2,590.0L387.2,645.0M388.4,590.0L394.4,645.0M395.6,590.0L401.6,645.0M402.8,590.0L408.8,645.0M410.0,590.0L416.0,645.0M417.2,590.0L423.2,645.0M424.4,590.0L430.4,645.0" fill="none" stroke="#111" stroke-width="4" stroke-linecap="round"/>
</g>
<path d="M74.2,849.7L79.1,828.2M85.6,838.7L93.9,801.6M96.9,827.7L107.2,781.9M108.2,816.7L118.6,770.9M119.6,805.7L129.9,759.9M130.9,794.7L141.3,748.9M142.2,783.7L152.6,737.8M153.6,772.7L163.9,726.8M164.9,761.7L175.3,715.8M176.3,750.7L186.6,704.8M187.6,739.7L198.0,693.5M198.9,728.7L210.1,679.3M210.3,717.6L222.2,665.0M221.6,706.6L234.2,650.7M233.0,695.6L244.8,643.0M244.3,684.6L255.1,636.9M255.6,673.6L265.3,630.7M267.0,662.6L275.6,624.6M278.3,651.6L285.8,618.5M289.6,640.6L296.0,612.3M301.0,629.6L306.3,606.2M312.3,618.6L316.5,600.1M323.7,607.6L326.7,594.0" fill="none" stroke="#222" stroke-width="2.4" stroke-linecap="round"/>
<polyline points="70.3,853.5 8.8,721.0 198.0,555.3" fill="none" stroke="#111" stroke-width="3.8" stroke-linecap="round" stroke-linejoin="round" />
<line x1="198.0" y1="555.3" x2="331.5" y2="600.0" stroke="#333" stroke-width="1.6" stroke-linecap="round" />
<line x1="70.3" y1="853.5" x2="331.5" y2="600.0" stroke="#111" stroke-width="3.4" stroke-linecap="round" />
<line x1="73.0" y1="856.3" x2="334.2" y2="602.8" stroke="#333" stroke-width="3.2" stroke-dasharray="1.3 3.3"/>
<path d="M331.5,600 L371,661.5" fill="none" stroke="#111" stroke-width="3.4" stroke-linecap="round" stroke-linejoin="round" />
<path d="M402,725 L268.0,863.6 Q262,870 254.0,869.3 L202,867 M164.6,861.6 L70.3,853.5" fill="none" stroke="#111" stroke-width="3.6" stroke-linecap="round" stroke-linejoin="round" />
<path d="M210.2,786.0L219.2,843.6M224.3,761.8L232.0,848.7M233.2,774.6L242.2,851.2M242.2,752.8L252.4,843.6M253.7,727.3L263.9,833.4M267.7,700.4L269.0,764.3M274.1,704.3L276.7,779.7M286.9,712.0L289.5,764.3M297.1,713.2L298.4,761.8M304.8,714.5L306.1,759.2M313.7,718.3L315.0,756.7" fill="none" stroke="#222" stroke-width="1.6" stroke-linecap="round"/>
<line x1="317.0" y1="787.0" x2="338.0" y2="819.0" stroke="#111" stroke-width="5" stroke-linecap="round" />
<path d="M356,836 C348,841 341,848 338,858 C336,866 335,870 333,876" fill="none" stroke="#111" stroke-width="5.6" stroke-linecap="round" stroke-linejoin="round" />
<path d="M343,852 C340,860 342,866 339,872" fill="none" stroke="#111" stroke-width="3.4" stroke-linecap="round" stroke-linejoin="round" />
<g transform="translate(299.3,779.4) rotate(0)">
<ellipse rx="19.0" ry="14.6" fill="#181818"/>
<clipPath id="bt5"><ellipse cx="-0.3" cy="-2.0" rx="15.4" ry="9.0"/></clipPath>
<ellipse cx="-0.3" cy="-2.0" rx="15.4" ry="9.0" fill="#fff"/>
<path d="M-15.4,-7.5L-3.9,-8.3M5.4,-8.5L15.4,-9.1M-15.4,-4.6L-3.9,-5.4M5.4,-5.6L15.4,-6.2M-15.4,-1.7L-3.9,-2.5M5.4,-2.7L15.4,-3.3M-15.4,1.2L-3.9,0.4M5.4,0.2L15.4,-0.4M-15.4,4.1L-3.9,3.3M5.4,3.1L15.4,2.5M-15.4,7.0L-3.9,6.2M5.4,6.0L15.4,5.4" stroke="#555" stroke-width="1.3" fill="none" clip-path="url(#bt5)"/>
<circle cx="-0.3" cy="-2.0" r="4.4" fill="#1d1d1d"/>
<circle cx="-0.3" cy="-2.0" r="1.7" fill="#e8e8e8"/>
</g>
<g transform="translate(353.0,821.8) rotate(0)">
<ellipse rx="15.6" ry="16.6" fill="#181818"/>
<clipPath id="bt6"><ellipse cx="-0.3" cy="-2.5" rx="11.8" ry="10.3"/></clipPath>
<ellipse cx="-0.3" cy="-2.5" rx="11.8" ry="10.3" fill="#fff"/>
<path d="M-11.8,-8.8L-3.0,-9.6M4.1,-9.8L11.8,-10.4M-11.8,-5.9L-3.0,-6.7M4.1,-6.9L11.8,-7.5M-11.8,-3.0L-3.0,-3.8M4.1,-4.0L11.8,-4.6M-11.8,-0.1L-3.0,-0.9M4.1,-1.1L11.8,-1.7M-11.8,2.8L-3.0,2.0M4.1,1.8L11.8,1.2M-11.8,5.7L-3.0,4.9M4.1,4.7L11.8,4.1M-11.8,8.6L-3.0,7.8M4.1,7.6L11.8,7.0" stroke="#555" stroke-width="1.3" fill="none" clip-path="url(#bt6)"/>
<circle cx="-0.3" cy="-2.5" r="4.4" fill="#1d1d1d"/>
<circle cx="-0.3" cy="-2.5" r="1.7" fill="#e8e8e8"/>
</g>
<polyline points="70.3,853.5 108.7,920.3" fill="none" stroke="#111" stroke-width="3.6" stroke-linecap="round" stroke-linejoin="round" />
<clipPath id="f4lt"><polygon points="71.0,855.0 133.0,895.0 124.7,902.5 109.5,921.0"/></clipPath>
<g clip-path="url(#f4lt)">
<path d="M62.0,935.0L84.0,850.0M71.2,935.0L93.2,850.0M80.4,935.0L102.4,850.0M89.6,935.0L111.6,850.0M98.8,935.0L120.8,850.0M108.0,935.0L130.0,850.0M117.2,935.0L139.2,850.0M126.4,935.0L148.4,850.0" fill="none" stroke="#222" stroke-width="4.2" stroke-linecap="round"/>
</g>
<line x1="72.0" y1="856.0" x2="133.3" y2="894.7" stroke="#111" stroke-width="2.2" stroke-linecap="round" />
<line x1="74.3" y1="852.4" x2="135.6" y2="891.1" stroke="#555" stroke-width="2.7" stroke-dasharray="1.3 3.5"/>
<clipPath id="f4tri2"><polygon points="212.8,871.7 246.0,874.2 256.2,899.8"/></clipPath>
<g clip-path="url(#f4tri2)">
<path d="M205.0,868.0L225.0,905.0M208.6,868.0L228.6,905.0M212.2,868.0L232.2,905.0M215.8,868.0L235.8,905.0M219.4,868.0L239.4,905.0M223.0,868.0L243.0,905.0M226.6,868.0L246.6,905.0M230.2,868.0L250.2,905.0M233.8,868.0L253.8,905.0M237.4,868.0L257.4,905.0M241.0,868.0L261.0,905.0M244.6,868.0L264.6,905.0M248.2,868.0L268.2,905.0M251.8,868.0L271.8,905.0" fill="none" stroke="#333" stroke-width="1.3" stroke-linecap="round"/>
</g>
<polyline points="246.0,874.2 256.2,899.8" fill="none" stroke="#111" stroke-width="2.2" stroke-linecap="round" stroke-linejoin="round" />
<path d="M111,921 L175.3,859.2 Q180.3,853.4 186.3,858.6 L290.4,935.5 L391,1108 Z" fill="#fff" stroke="none" stroke-width="0" stroke-linecap="round" stroke-linejoin="round" />
<path d="M111,921 L175.3,859.2 Q180.3,853.4 186.3,858.6 L290.4,935.5" fill="none" stroke="#111" stroke-width="3.4" stroke-linecap="round" stroke-linejoin="round" />
<line x1="108.7" y1="920.3" x2="391.0" y2="1108.0" stroke="#111" stroke-width="3.6" stroke-linecap="round" />
<line x1="115.1" y1="916.4" x2="394.1" y2="1103.4" stroke="#333" stroke-width="3.6" stroke-dasharray="1.3 3.0"/>
<line x1="158.1" y1="915.2" x2="225.0" y2="959.4" stroke="#111" stroke-width="3.6" stroke-linecap="round" stroke-dasharray="13 9" stroke-linecap="butt"/>
<line x1="249.8" y1="976.6" x2="305.8" y2="1002.5" stroke="#111" stroke-width="3.6" stroke-linecap="round" stroke-dasharray="12 9" stroke-linecap="butt"/>
<line x1="273.5" y1="933.5" x2="303.7" y2="1000.4" stroke="#111" stroke-width="3" stroke-linecap="round" stroke-dasharray="9 8" stroke-linecap="butt"/>
<polyline points="232.5,959.4 239.0,970.2" fill="none" stroke="#111" stroke-width="2.2" stroke-linecap="round" stroke-linejoin="round" />
<polyline points="299.0,1008.0 305.0,1016.0 314.0,1006.0" fill="none" stroke="#111" stroke-width="1.8" stroke-linecap="round" stroke-linejoin="round" />
<path d="M150.6,903.3L178.6,874.2M174.3,893.6L189.4,876.4M184.0,894.7L197.0,880.7M189.4,899.0L201.3,888.2M135.5,909.8L146.3,905.5" fill="none" stroke="#222" stroke-width="1.8" stroke-linecap="round"/>
<path d="M226.0,963.7L254.1,933.5M236.8,965.9L260.6,942.1M252.0,965.9L263.8,953.0" fill="none" stroke="#222" stroke-width="1.8" stroke-linecap="round"/>
<path d="M321.0,990.0L311.9,1013.4M326.2,998.8L317.7,1020.6M331.3,1007.7L323.5,1027.8M336.5,1016.5L329.3,1035.0M341.7,1025.3L335.1,1042.1M346.8,1034.2L340.9,1049.3M352.0,1043.0L346.8,1056.5M357.2,1051.8L352.6,1063.7M362.3,1060.7L358.4,1070.9M367.5,1069.5L364.2,1078.0M372.7,1078.3L370.0,1085.2M377.8,1087.2L375.8,1092.4M383.0,1096.0L381.6,1099.6" fill="none" stroke="#222" stroke-width="1.7" stroke-linecap="round"/>
<path d="M303.0,1030.0L312.0,1012.0M313.0,1036.0L321.0,1020.0" fill="none" stroke="#222" stroke-width="1.5" stroke-linecap="round"/>
<polygon points="486.0,734.8 700.0,772.3 391.0,1108.0 290.4,935.5" fill="#fff" stroke="none" stroke-width="0" stroke-linejoin="round" />
<polyline points="391.0,1108.0 290.4,935.5 486.0,734.8 700.0,772.3" fill="none" stroke="#111" stroke-width="3.6" stroke-linecap="round" stroke-linejoin="round" />
<line x1="700.0" y1="772.3" x2="391.0" y2="1108.0" stroke="#111" stroke-width="3.4" stroke-linecap="round" />
<line x1="695.8" y1="768.4" x2="386.8" y2="1104.1" stroke="#333" stroke-width="3.1" stroke-dasharray="1.3 3.6"/>
<line x1="518.6" y1="785.0" x2="322.0" y2="998.0" stroke="#111" stroke-width="3" stroke-linecap="round" stroke-dasharray="14 11 18 11 9 11" stroke-linecap="butt"/>
<g transform="translate(441.0,862.0) rotate(0)">
<ellipse rx="18.0" ry="18.4" fill="#181818"/>
<clipPath id="bt7"><ellipse cx="-0.3" cy="-1.0" rx="14.4" ry="13.8"/></clipPath>
<ellipse cx="-0.3" cy="-1.0" rx="14.4" ry="13.8" fill="#fff"/>
<path d="M-14.4,-12.3L-3.6,-13.1M5.0,-13.3L14.4,-13.9M-14.4,-9.4L-3.6,-10.2M5.0,-10.4L14.4,-11.0M-14.4,-6.5L-3.6,-7.3M5.0,-7.5L14.4,-8.1M-14.4,-3.6L-3.6,-4.4M5.0,-4.6L14.4,-5.2M-14.4,-0.7L-3.6,-1.5M5.0,-1.7L14.4,-2.3M-14.4,2.2L-3.6,1.4M5.0,1.2L14.4,0.6M-14.4,5.1L-3.6,4.3M5.0,4.1L14.4,3.5M-14.4,8.0L-3.6,7.2M5.0,7.0L14.4,6.4M-14.4,10.9L-3.6,10.1M5.0,9.9L14.4,9.3" stroke="#2a2a2a" stroke-width="1.3" fill="none" clip-path="url(#bt7)"/>
<circle cx="-0.3" cy="-1.0" r="4.6" fill="#1d1d1d"/>
<circle cx="-0.3" cy="-1.0" r="1.7" fill="#e8e8e8"/>
</g>
<path d="M419.9,912.4L443.2,931.0M410.6,926.3L458.3,956.6M421.0,946.1L467.6,976.4M417.5,954.3L466.4,990.4M422.2,965.9L469.9,1006.6M424.5,971.7L467.6,1016.0" fill="none" stroke="#222" stroke-width="1.9" stroke-linecap="round"/>
<path d="M417.5,905.4L426.9,910.0" fill="none" stroke="#222" stroke-width="3.8" stroke-linecap="round"/>
<path d="M482.8,903.1L507.3,936.2M490.0,903.1L514.5,920.4M481.4,910.3L504.4,929.0" fill="none" stroke="#222" stroke-width="1.7" stroke-linecap="round"/>
<path d="M347.7,990.8L380.8,1009.5M346.3,999.4L379.3,1019.6M350.6,1009.5L386.5,1031.0M354.9,1022.4L390.8,1039.7M359.2,1035.4L392.3,1052.6M362.0,1048.3L393.7,1064.1M367.8,1061.2L393.7,1077.0M370.7,1072.7L390.8,1084.2" fill="none" stroke="#222" stroke-width="1.6" stroke-linecap="round"/>
<path d="M365.5,672.5 L428,613.5 L700,772.3 L486,734.8 L469.7,738.7 L366.5,679.5 Q360.5,676.5 365.5,672.5 Z" fill="#fff" stroke="none" stroke-width="0" stroke-linecap="round" stroke-linejoin="round" />
<path d="M428,613.5 L365.5,672.5 Q360.5,676.5 366.5,679.5 L469.7,738.7" fill="none" stroke="#111" stroke-width="3.6" stroke-linecap="round" stroke-linejoin="round" />
<line x1="428.0" y1="613.5" x2="700.0" y2="772.3" stroke="#444" stroke-width="1.4" stroke-linecap="round" />
<clipPath id="f4sh"><polygon points="470.0,737.0 480.0,709.0 504.0,706.5 560.0,717.8 700.0,772.3 486.0,734.8 469.7,738.7"/></clipPath>
<g clip-path="url(#f4sh)">
<path d="M458.0,790.0L488.0,700.0M467.0,790.0L497.0,700.0M476.0,790.0L506.0,700.0M485.0,790.0L515.0,700.0M494.0,790.0L524.0,700.0M503.0,790.0L533.0,700.0M512.0,790.0L542.0,700.0M521.0,790.0L551.0,700.0M530.0,790.0L560.0,700.0M539.0,790.0L569.0,700.0M548.0,790.0L578.0,700.0M557.0,790.0L587.0,700.0M566.0,790.0L596.0,700.0" fill="none" stroke="#111" stroke-width="2.7" stroke-linecap="round"/>
<path d="M575.0,790.0L605.0,700.0M580.6,790.0L610.6,700.0M586.2,790.0L616.2,700.0M591.8,790.0L621.8,700.0M597.4,790.0L627.4,700.0M603.0,790.0L633.0,700.0M608.6,790.0L638.6,700.0M614.2,790.0L644.2,700.0M619.8,790.0L649.8,700.0M625.4,790.0L655.4,700.0M629.6,790.0L659.6,700.0M633.8,790.0L663.8,700.0M638.0,790.0L668.0,700.0M642.2,790.0L672.2,700.0M646.4,790.0L676.4,700.0M650.6,790.0L680.6,700.0M654.8,790.0L684.8,700.0M659.0,790.0L689.0,700.0M663.2,790.0L693.2,700.0M667.4,790.0L697.4,700.0M671.6,790.0L701.6,700.0M675.8,790.0L705.8,700.0M680.0,790.0L710.0,700.0M684.2,790.0L714.2,700.0M688.4,790.0L718.4,700.0M692.6,790.0L722.6,700.0M696.8,790.0L726.8,700.0" fill="none" stroke="#222" stroke-width="1.5" stroke-linecap="round"/>
</g>
<line x1="486.0" y1="734.8" x2="700.0" y2="772.3" stroke="#111" stroke-width="3.6" stroke-linecap="round" />
<line x1="469.7" y1="738.7" x2="486.0" y2="734.8" stroke="#111" stroke-width="3.4" stroke-linecap="round" />
<line x1="409.8" y1="637.9" x2="551.6" y2="709.8" stroke="#111" stroke-width="2.3" stroke-linecap="round" stroke-dasharray="10 7"/>
<path d="M80,567.5 L90,572.5 C77,582 66.5,592 70.5,607 C75,621 89,627 98,632.5" fill="none" stroke="#111" stroke-width="6.2" stroke-linecap="round" stroke-linejoin="round" />
<path d="M88,575 C77,583 67,593 71,607 C75,620 88,626 96,631" fill="none" stroke="#fff" stroke-width="2" stroke-linecap="round" stroke-linejoin="round" stroke-dasharray="3.2 5.2" stroke-linecap="butt"/>
<polygon points="377.6,476.4 504.6,476.4 504.6,518.4 377.6,518.4" fill="#fff" stroke="#fff" stroke-width="2" stroke-linejoin="round"/>
<g transform="translate(397,483.2) rotate(0) scale(1.0)" fill="none" stroke="#161616" stroke-width="4.4" stroke-linecap="round" stroke-linejoin="round">
<path d="M2.6,25.5 L2.6,2.4 L19.5,1.6 M2.6,13 L13.5,12.6"/>
<path d="M28.5,9.5 L28.5,25.8"/>
<path d="M54.5,11.5 C50,7.5 42,8.5 40.8,16.5 C39.8,24.5 48,27.5 53.5,24 C56,22.3 56.6,20.5 56.5,18.5 L48.5,18.8"/>
<circle cx="67.5" cy="24.8" r="3" fill="#161616" stroke="none"/>
<path d="M85,2.5 L85,26"/>
</g>
<polygon points="731.0,545.2 853.0,551.2 853.8,592.6 730.0,588.2" fill="#fff" stroke="#fff" stroke-width="2" stroke-linejoin="round"/>
<g transform="translate(741.4,555) rotate(2.4) scale(1.0)" fill="none" stroke="#161616" stroke-width="4.4" stroke-linecap="round" stroke-linejoin="round">
<path d="M2.6,25.5 L2.6,2.4 L19.5,1.6 M2.6,13 L13.5,12.6"/>
<path d="M28.5,9.5 L28.5,25.8"/>
<path d="M54.5,11.5 C50,7.5 42,8.5 40.8,16.5 C39.8,24.5 48,27.5 53.5,24 C56,22.3 56.6,20.5 56.5,18.5 L48.5,18.8"/>
<circle cx="67.5" cy="24.8" r="3" fill="#161616" stroke="none"/>
<path d="M80.5,7.5 C84,0.5 96,1.5 95.5,8.5 C95,15 86,19.5 80.5,25.5 L98,26.5"/>
</g>
<rect x="804" y="956" width="122" height="46" rx="16" fill="#fff"/>
<g transform="translate(813,965) rotate(0) scale(1.0)" fill="none" stroke="#161616" stroke-width="4.6" stroke-linecap="round" stroke-linejoin="round">
<path d="M2.6,25.5 L2.6,2.4 L19.5,1.6 M2.6,13 L13.5,12.6"/>
<path d="M28.5,9.5 L28.5,25.8"/>
<path d="M54.5,11.5 C50,7.5 42,8.5 40.8,16.5 C39.8,24.5 48,27.5 53.5,24 C56,22.3 56.6,20.5 56.5,18.5 L48.5,18.8"/>
<circle cx="67.5" cy="24.8" r="3" fill="#161616" stroke="none"/>
<path d="M79.5,5.5 C84,0 96,1.5 94.5,8 C93.8,11.5 90,12.8 87,13 C93,13 97.5,16 96.5,21 C95.5,27 84,28.5 79,22"/>
</g>
<g transform="translate(158,1055.5) rotate(0) scale(1.0)" fill="none" stroke="#161616" stroke-width="4.6" stroke-linecap="round" stroke-linejoin="round">
<path d="M2.6,25.5 L2.6,2.4 L19.5,1.6 M2.6,13 L13.5,12.6"/>
<path d="M28.5,9.5 L28.5,25.8"/>
<path d="M54.5,11.5 C50,7.5 42,8.5 40.8,16.5 C39.8,24.5 48,27.5 53.5,24 C56,22.3 56.6,20.5 56.5,18.5 L48.5,18.8"/>
<circle cx="67.5" cy="24.8" r="3" fill="#161616" stroke="none"/>
<path d="M93.5,3.5 L79.5,20.5 L101.5,20 M93.5,3.5 L93.8,29.5"/>
</g>
</svg>
</body></html>
